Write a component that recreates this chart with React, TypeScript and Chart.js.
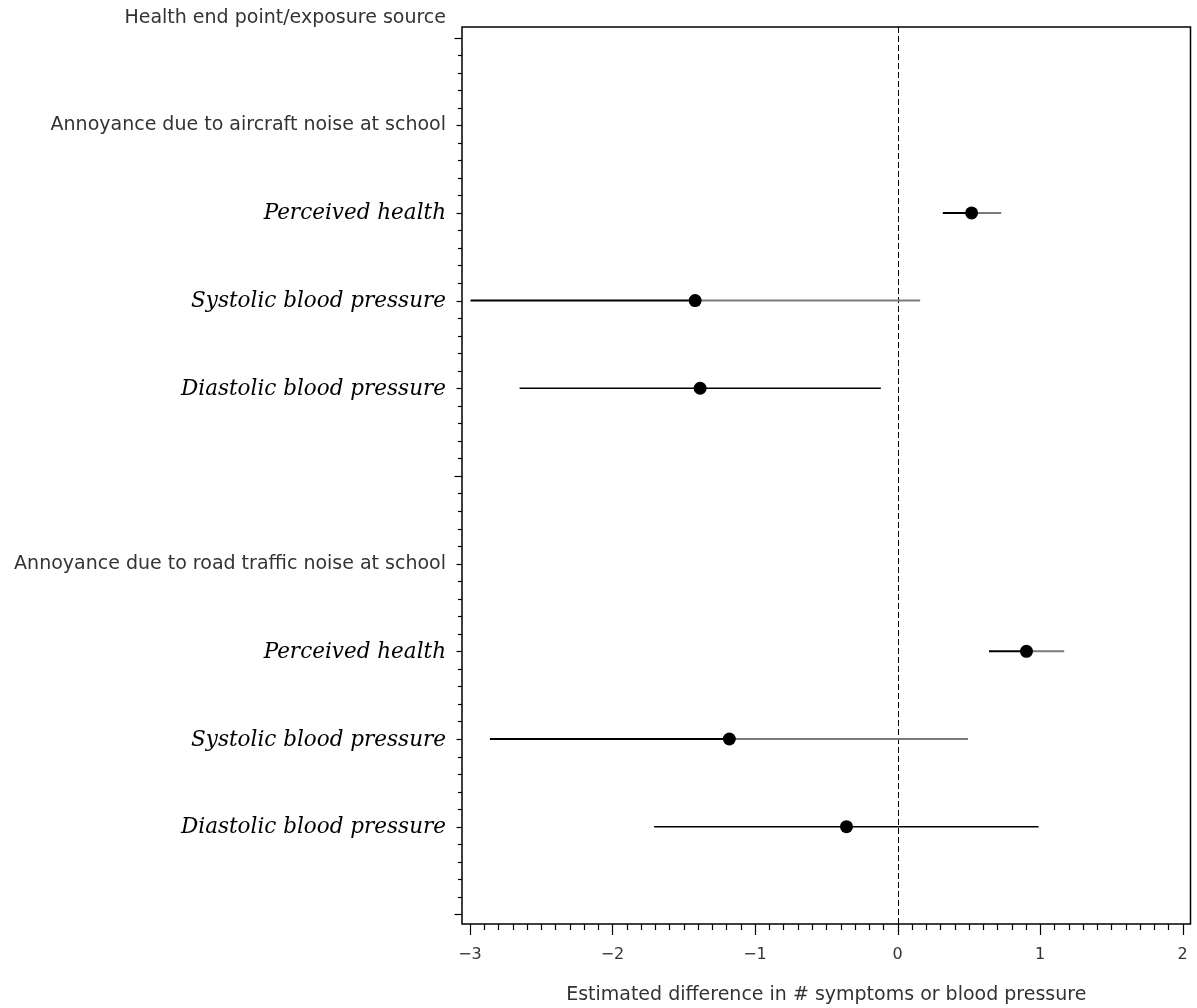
import React, { useEffect, useRef } from "react";
import { Chart, registerables } from "chart.js";

Chart.register(...registerables);

// ---- data ----
const rowLabels = [
  "",
  "Annoyance due to aircraft noise at school",
  "Perceived health",
  "Systolic blood pressure",
  "Diastolic blood pressure",
  "",
  "Annoyance due to road traffic noise at school",
  "Perceived health",
  "Systolic blood pressure",
  "Diastolic blood pressure",
  "",
];
const rowItalic = [false, false, true, true, true, false, false, true, true, true, false];
const estRows = [2, 3, 4, 7, 8, 9];
const estimates = [0.52, -1.42, -1.385, 0.905, -1.18, -0.358];
const lower = [0.318, -2.996, -2.652, 0.642, -2.86, -1.708];
const upper = [0.728, 0.159, -0.117, 1.17, 0.495, 0.99];
const splitShade = [true, true, false, true, true, false];
const xTicks = [-3, -2, -1, 0, 1, 2];
const headerLabel = "Health end point/exposure source";
const xTitle = "Estimated difference in # symptoms or blood pressure";

const SANS = "'DejaVu Sans', sans-serif";
const SERIF = "'DejaVu Serif', serif";

const axesPlugin = {
  id: "customAxes",
  beforeDatasetsDraw(chart: any) {
    const { ctx, chartArea, scales } = chart;
    const x0 = scales.x.getPixelForValue(0);
    ctx.save();
    ctx.strokeStyle = "#000";
    ctx.lineWidth = 1;
    ctx.setLineDash([6, 3]);
    ctx.beginPath();
    ctx.moveTo(Math.round(x0) + 0.5, chartArea.top);
    ctx.lineTo(Math.round(x0) + 0.5, chartArea.bottom);
    ctx.stroke();
    ctx.restore();
  },
  afterDraw(chart: any) {
    const { ctx, chartArea, scales } = chart;
    const xs = scales.x;
    const ys = scales.y;
    ctx.save();
    // frame
    ctx.strokeStyle = "#000";
    ctx.lineWidth = 1.5;
    ctx.setLineDash([]);
    ctx.strokeRect(chartArea.left, chartArea.top, chartArea.right - chartArea.left, chartArea.bottom - chartArea.top);

    // y ticks
    ctx.lineWidth = 1.2;
    for (let k = 0; k <= 50; k++) {
      const v = k / 5;
      const py = Math.round(ys.getPixelForValue(v)) + 0.5;
      let len = 4;
      if (k % 5 === 0) {
        const row = k / 5;
        len = rowLabels[row] === "" ? 7.5 : 5.5;
      }
      ctx.beginPath();
      ctx.moveTo(chartArea.left, py);
      ctx.lineTo(chartArea.left - len, py);
      ctx.stroke();
    }
    // y labels
    ctx.textAlign = "right";
    ctx.textBaseline = "middle";
    rowLabels.forEach((lab, i) => {
      if (!lab) return;
      const py = ys.getPixelForValue(i);
      if (rowItalic[i]) {
        ctx.font = "italic 21.5px " + SERIF;
        ctx.fillStyle = "#000";
        ctx.fillText(lab, chartArea.left - 16, py + 1);
      } else {
        ctx.font = "19px " + SANS;
        ctx.fillStyle = "#333";
        ctx.fillText(lab, chartArea.left - 16, py);
      }
    });
    // header
    ctx.font = "19px " + SANS;
    ctx.fillStyle = "#333";
    ctx.fillText(headerLabel, chartArea.left - 16, 18);

    // x ticks
    for (let k = -30; k <= 20; k++) {
      const v = k / 10;
      const px = Math.round(xs.getPixelForValue(v)) + 0.5;
      const len = k % 10 === 0 ? 11 : 6;
      ctx.beginPath();
      ctx.moveTo(px, chartArea.bottom);
      ctx.lineTo(px, chartArea.bottom + len);
      ctx.stroke();
    }
    ctx.textAlign = "center";
    ctx.textBaseline = "middle";
    ctx.font = "16px " + SANS;
    ctx.fillStyle = "#333";
    xTicks.forEach((t) => {
      const px = xs.getPixelForValue(t);
      const s = t < 0 ? "\u2212" + Math.abs(t) : String(t);
      ctx.fillText(s, px, 955);
    });
    ctx.font = "19px " + SANS;
    ctx.fillText(xTitle, (chartArea.left + chartArea.right) / 2, 995);
    ctx.restore();
  },
};

export default function App() {
  const ref = useRef<HTMLCanvasElement | null>(null);
  useEffect(() => {
    document.body.style.margin = "0";
    const datasets: any[] = [];
    datasets.push({
      label: "estimates",
      data: estimates.map((e, i) => ({ x: e, y: estRows[i] })),
      pointRadius: 6.5,
      pointBackgroundColor: "#000",
      pointBorderColor: "#000",
      pointBorderWidth: 0,
      showLine: false,
    });
    estimates.forEach((e, i) => {
      const r = estRows[i];
      const split = splitShade[i];
      datasets.push({
        label: "lo" + i,
        data: [
          { x: lower[i], y: r },
          { x: e, y: r },
        ],
        showLine: true,
        pointRadius: 0,
        borderColor: "#000",
        borderWidth: split ? 2 : 1.5,
      });
      datasets.push({
        label: "hi" + i,
        data: [
          { x: e, y: r },
          { x: upper[i], y: r },
        ],
        showLine: true,
        pointRadius: 0,
        borderColor: split ? "#7a7a7a" : "#000",
        borderWidth: split ? 2 : 1.5,
      });
    });
    const chart = new Chart(ref.current as HTMLCanvasElement, {
      type: "scatter",
      data: { datasets },
      options: {
        responsive: false,
        animation: false,
        maintainAspectRatio: false,
        layout: { padding: { left: 462, right: 3, top: 27, bottom: 84 } },
        plugins: { legend: { display: false }, tooltip: { enabled: false } },
        scales: {
          x: { type: "linear", min: -3.056, max: 2.056, display: false },
          y: { type: "linear", min: -0.12, max: 10.11, reverse: true, display: false },
        },
      },
      plugins: [axesPlugin],
    });
    return () => chart.destroy();
  }, []);
  return (
    <div style={{ width: 1197, height: 1008, background: "#fff" }}>
      <canvas ref={ref} width={1197} height={1008} style={{ display: "block" }} />
    </div>
  );
}
